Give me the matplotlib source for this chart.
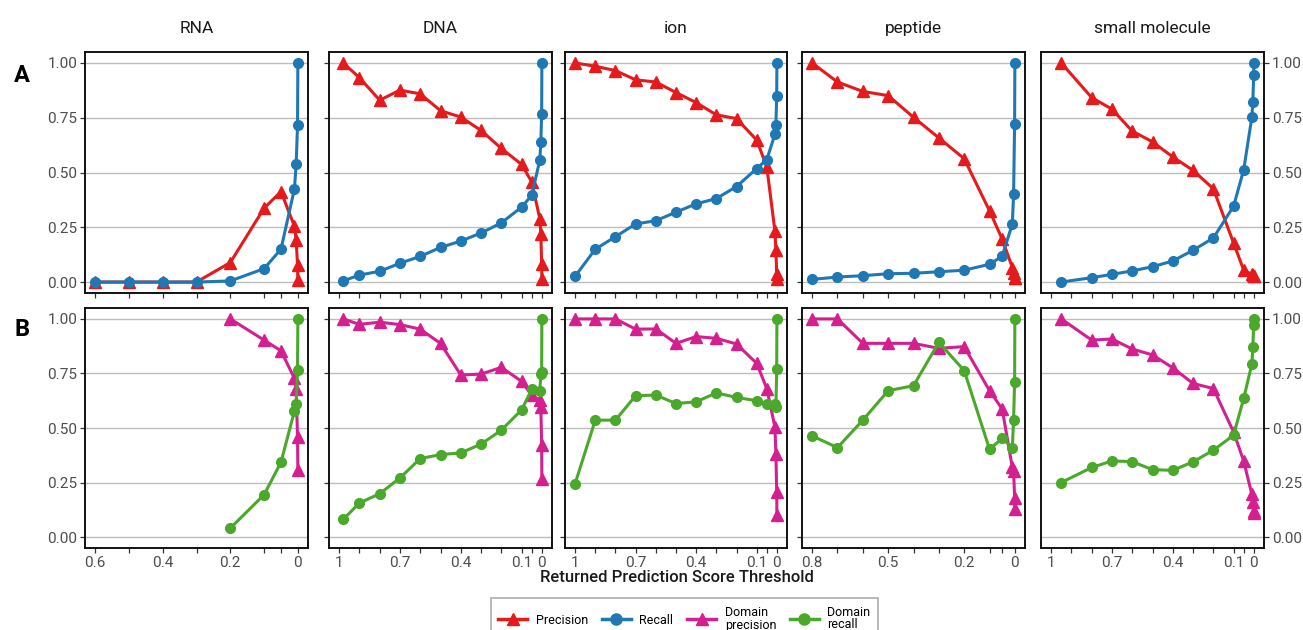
import numpy as np
import matplotlib.pyplot as plt
from matplotlib.lines import Line2D

nan = np.nan

# thresholds (x) and metric values
rna_thr = [0.6, 0.5, 0.4, 0.3, 0.2, 0.1, 0.05, 0.01, 0.005, 0.001, 0.0]
rna_prec = [0, 0, 0, 0, 0.089, 0.337, 0.413, 0.254, 0.193, 0.077, 0.008]
rna_rec = [0, 0, 0, 0, 0.005, 0.061, 0.15, 0.426, 0.541, 0.715, 1.0]
rna_dprec = [nan, nan, nan, nan, 1.0, 0.903, 0.854, 0.727, 0.681, 0.459, 0.309]
rna_drec = [nan, nan, nan, nan, 0.041, 0.194, 0.343, 0.579, 0.609, 0.768, 1.0]

dna_thr = [0.98, 0.9, 0.8, 0.7, 0.6, 0.5, 0.4, 0.3, 0.2, 0.1, 0.05, 0.01, 0.005, 0.001, 0.0]
dna_prec = [1.0, 0.933, 0.830, 0.876, 0.859, 0.782, 0.753, 0.692, 0.610, 0.537, 0.457, 0.288, 0.219, 0.081, 0.012]
dna_rec = [0.005, 0.032, 0.049, 0.086, 0.117, 0.158, 0.187, 0.224, 0.270, 0.342, 0.396, 0.557, 0.640, 0.768, 1.0]
dna_dprec = [1.0, 0.975, 0.985, 0.974, 0.953, 0.888, 0.743, 0.747, 0.778, 0.714, 0.650, 0.627, 0.594, 0.424, 0.267]
dna_drec = [0.081, 0.156, 0.199, 0.271, 0.360, 0.378, 0.386, 0.426, 0.490, 0.583, 0.677, 0.670, 0.746, 0.758, 1.0]

ion_thr = [1.0, 0.9, 0.8, 0.7, 0.6, 0.5, 0.4, 0.3, 0.2, 0.1, 0.05, 0.01, 0.005, 0.001, 0.0]
ion_prec = [1.0, 0.985, 0.965, 0.923, 0.913, 0.865, 0.819, 0.763, 0.746, 0.648, 0.525, 0.234, 0.145, 0.035, 0.015]
ion_rec = [0.026, 0.150, 0.207, 0.265, 0.280, 0.319, 0.357, 0.381, 0.436, 0.518, 0.559, 0.674, 0.717, 0.847, 1.0]
ion_dprec = [1.0, 1.0, 1.0, 0.953, 0.954, 0.888, 0.919, 0.911, 0.885, 0.796, 0.680, 0.505, 0.383, 0.207, 0.100]
ion_drec = [0.245, 0.536, 0.536, 0.648, 0.651, 0.612, 0.620, 0.661, 0.640, 0.625, 0.608, 0.612, 0.597, 0.769, 1.0]

pep_thr = [0.8, 0.7, 0.6, 0.5, 0.4, 0.3, 0.2, 0.1, 0.05, 0.01, 0.005, 0.001, 0.0]
pep_prec = [1.0, 0.913, 0.870, 0.851, 0.752, 0.658, 0.563, 0.325, 0.196, 0.066, 0.043, 0.020, 0.017]
pep_rec = [0.012, 0.023, 0.029, 0.038, 0.040, 0.047, 0.054, 0.081, 0.118, 0.265, 0.402, 0.721, 1.0]
pep_dprec = [1.0, 1.0, 0.888, 0.888, 0.888, 0.865, 0.873, 0.671, 0.587, 0.319, 0.305, 0.181, 0.127]
pep_drec = [0.464, 0.410, 0.536, 0.671, 0.694, 0.893, 0.763, 0.403, 0.452, 0.410, 0.538, 0.712, 1.0]

sm_thr = [0.95, 0.8, 0.7, 0.6, 0.5, 0.4, 0.3, 0.2, 0.1, 0.05, 0.01, 0.005, 0.001, 0.0]
sm_prec = [1.0, 0.842, 0.789, 0.689, 0.640, 0.571, 0.510, 0.426, 0.178, 0.054, 0.035, 0.030, 0.028, 0.028]
sm_rec = [0.0, 0.020, 0.035, 0.051, 0.070, 0.096, 0.145, 0.201, 0.346, 0.513, 0.752, 0.824, 0.946, 1.0]
sm_dprec = [1.0, 0.903, 0.908, 0.862, 0.835, 0.776, 0.704, 0.681, 0.482, 0.348, 0.196, 0.161, 0.120, 0.110]
sm_drec = [0.250, 0.319, 0.349, 0.346, 0.309, 0.306, 0.345, 0.398, 0.467, 0.636, 0.793, 0.873, 0.972, 1.0]

titles = ['RNA', 'DNA', 'ion', 'peptide', 'small molecule']
x_max = [0.6, 1.0, 1.0, 0.8, 1.0]
x_labels = [[0.6, 0.4, 0.2, 0], [1, 0.7, 0.4, 0.1, 0], [1, 0.7, 0.4, 0.1, 0],
            [0.8, 0.5, 0.2, 0], [1, 0.7, 0.4, 0.1, 0]]

panels = [
    (rna_thr, rna_prec, rna_rec, rna_dprec, rna_drec),
    (dna_thr, dna_prec, dna_rec, dna_dprec, dna_drec),
    (ion_thr, ion_prec, ion_rec, ion_dprec, ion_drec),
    (pep_thr, pep_prec, pep_rec, pep_dprec, pep_drec),
    (sm_thr, sm_prec, sm_rec, sm_dprec, sm_drec),
]

RED, BLUE, PINK, GREEN = '#e41a1c', '#1f78b4', '#d4208f', '#4aa82a'
series_style = [('Precision', RED, '^'), ('Recall', BLUE, 'o'),
                ('Domain\nprecision', PINK, '^'), ('Domain\nrecall', GREEN, 'o')]

plt.rcParams['font.family'] = ['Roboto', 'DejaVu Sans']

W, H = 1303, 630
fig = plt.figure(figsize=(W / 100, H / 100), dpi=100)

col_x = [(85, 308), (329, 552), (565, 787), (802, 1025), (1041, 1264)]
row_y = [(52, 293), (308, 548)]


def fmt(v):
    if v == 0:
        return '0'
    if v == 1:
        return '1'
    return '%g' % v


for c, data in enumerate(panels):
    thr = data[0]
    xm = x_max[c]
    steps = list(np.round(np.arange(xm, 0.09, -0.1), 2)) + [0.05, 0.0]
    for r in range(2):
        x0, x1 = col_x[c]
        y0, y1 = row_y[r]
        ax = fig.add_axes([x0 / W, 1 - y1 / H, (x1 - x0) / W, (y1 - y0) / H])
        for k in (0, 1):
            name, col, mk = series_style[2 * r + k]
            ms = 8.5 if mk == '^' else 7
            ax.plot(thr, data[1 + 2 * r + k], color=col, marker=mk, ms=ms,
                    lw=2.2, zorder=3 + k, clip_on=False)
        ax.set_xlim(xm * 1.05, -xm * 0.05)
        ax.set_ylim(-0.05, 1.05)
        ax.set_yticks([0, 0.25, 0.5, 0.75, 1.0])
        ax.yaxis.grid(True, color='#bdbdbd', lw=1)
        ax.set_axisbelow(True)
        ax.set_xticks(steps)
        labs = [fmt(v) if any(abs(v - l) < 1e-9 for l in x_labels[c]) else '' for v in steps]
        if r == 1:
            ax.set_xticklabels(labs)
        else:
            ax.set_xticklabels([''] * len(steps))
        for s in ax.spines.values():
            s.set_linewidth(1.4)
            s.set_color('#111111')
        ax.tick_params(axis='both', length=3.5, width=0.9, color='#333333',
                       labelsize=11, labelcolor='#4d4d4d', pad=2)
        if c == 0:
            ax.set_yticklabels(['0.00', '0.25', '0.50', '0.75', '1.00'])
        elif c == 4:
            ax.yaxis.tick_right()
            ax.set_yticklabels(['0.00', '0.25', '0.50', '0.75', '1.00'])
        else:
            ax.set_yticklabels([])
        if r == 0:
            ax.set_title(titles[c], fontsize=12.5, color='#1a1a1a', pad=14)

fig.text(22 / W, 1 - 76 / H, 'A', fontsize=17, fontweight='bold', ha='center', va='center')
fig.text(22 / W, 1 - 329 / H, 'B', fontsize=17, fontweight='bold', ha='center', va='center')
fig.text(677 / W, 1 - 578 / H, 'Returned Prediction Score Threshold', fontsize=12,
         fontweight='medium', ha='center', va='center', color='#1a1a1a')

handles = [Line2D([], [], color=col, marker=mk, lw=2.5, ms=(9 if mk == '^' else 8))
           for name, col, mk in series_style]
leg = fig.legend(handles, [s[0] for s in series_style], loc='upper center',
                 bbox_to_anchor=(684.5 / W, 1 - 598 / H), ncol=4, fontsize=9,
                 frameon=True, fancybox=False, edgecolor='#a0a0a0', handlelength=2.3,
                 handletextpad=0.7, columnspacing=1.1, borderpad=0.6,
                 borderaxespad=0)
leg.get_frame().set_linewidth(1.3)
for t in leg.get_texts():
    t.set_linespacing(1.0)

fig.savefig('out.png', dpi=100)
